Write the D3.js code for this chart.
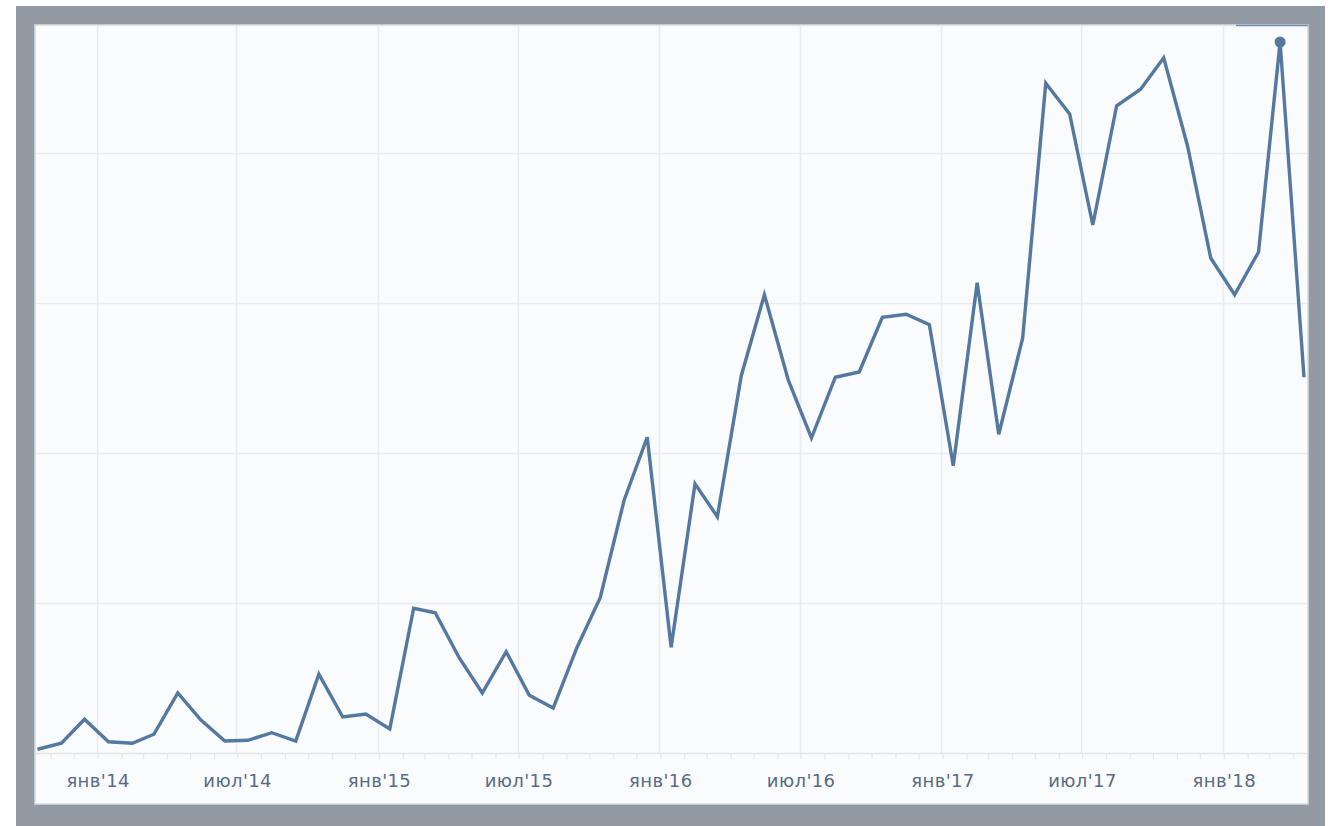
<!DOCTYPE html>
<html>
<head>
<meta charset="utf-8">
<script src="https://cdn.jsdelivr.net/npm/d3@7"></script>
<style>
  html, body { margin: 0; padding: 0; background: #ffffff; }
  svg { display: block; }
  text { font-family: "DejaVu Sans", Verdana, sans-serif; }
</style>
</head>
<body>
<svg id="chart" width="1333" height="826"></svg>
<script>
// ---- data (monthly values, mid-month, Oct 2013 .. Apr 2018) ----
const startYear = 2013, startMonth = 9; // October 2013 (0-based month)
const values = [
  0.5, 1.3, 4.5, 1.5, 1.3, 2.5, 8.0, 4.4, 1.6, 1.7,
  2.7, 1.6, 10.5, 4.8, 5.2, 3.2, 19.3, 18.7, 12.7, 8.0,
  13.5, 7.7, 6.0, 14.1, 20.7, 33.7, 42.1, 14.1, 35.9, 31.5,
  50.3, 61.1, 49.7, 42.0, 50.1, 50.8, 58.1, 58.5, 57.1, 38.3,
  62.7, 42.5, 55.3, 89.3, 85.2, 70.4, 86.3, 88.5, 92.7, 80.9,
  66.0, 61.1, 66.8, 94.8, 50.1
];
const monthNames = ["янв","фев","мар","апр","май","июн","июл","авг","сен","окт","ноя","дек"];
const yGridValues = [0, 20, 40, 60, 80];
const markerIndex = 53; // highlighted point (Mar 2018)

const dates = values.map((v, i) => new Date(startYear, startMonth + i, 15));
const data = values.map((v, i) => ({ date: dates[i], value: v }));

// ---- layout ----
const svg = d3.select("#chart");
const frame = { x: 16, y: 6, w: 1309, h: 820 };
const plot = { x: 35, y: 25, w: 1273, h: 779 };
const axisY = 753;

svg.append("rect").attr("x", frame.x).attr("y", frame.y)
  .attr("width", frame.w).attr("height", frame.h).attr("fill", "#929aa3");
svg.append("rect").attr("x", plot.x).attr("y", plot.y)
  .attr("width", plot.w).attr("height", plot.h)
  .attr("fill", "#fafbfc").attr("stroke", "#d6dadf").attr("stroke-width", 1.5);

svg.append("clipPath").attr("id", "clip").append("rect")
  .attr("x", plot.x + 1).attr("y", plot.y + 1)
  .attr("width", plot.w - 2).attr("height", plot.h - 2);

const x = d3.scaleTime()
  .domain([new Date(2013, 9, 15), new Date(2018, 3, 15)])
  .range([37.5, 1304]);
const y = d3.scaleLinear().domain([0, 80]).range([axisY, 153]);

const g = svg.append("g").attr("clip-path", "url(#clip)");

// horizontal grid
g.selectAll("line.hgrid").data(yGridValues.filter(d => d > 0)).join("line")
  .attr("class", "hgrid")
  .attr("x1", plot.x).attr("x2", plot.x + plot.w)
  .attr("y1", d => Math.round(y(d)) + 0.5).attr("y2", d => Math.round(y(d)) + 0.5)
  .attr("stroke", "#e8ebef").attr("stroke-width", 1.5);

// vertical grid at labelled months
const labelTicks = d3.timeMonth.every(6).range(new Date(2013, 11, 1), new Date(2018, 4, 1))
  .filter(d => d.getMonth() === 0 || d.getMonth() === 6);
g.selectAll("line.vgrid").data(labelTicks).join("line")
  .attr("class", "vgrid")
  .attr("x1", d => Math.round(x(d)) - 0.5).attr("x2", d => Math.round(x(d)) - 0.5)
  .attr("y1", plot.y).attr("y2", axisY)
  .attr("stroke", "#e8ebef").attr("stroke-width", 1.5);

// minor month ticks
const minorAxis = d3.axisBottom(x)
  .ticks(d3.timeMonth.every(1))
  .tickSize(6).tickFormat("");
const minorG = g.append("g").attr("transform", `translate(0,${axisY})`).call(minorAxis);
minorG.select(".domain").remove();
minorG.selectAll(".tick line").attr("stroke", "#e3e6ea").attr("stroke-width", 1.2);

// label axis
const labelAxis = d3.axisBottom(x)
  .tickValues(labelTicks)
  .tickSize(0).tickPadding(21)
  .tickFormat(d => monthNames[d.getMonth()] + "'" + String(d.getFullYear()).slice(2));
const labelG = g.append("g").attr("transform", `translate(0,${axisY})`).call(labelAxis);
labelG.select(".domain").remove();
labelG.selectAll(".tick text")
  .attr("fill", "#566b85").attr("font-size", 18)
  .attr("letter-spacing", "0.4px")
  .attr("font-family", "'DejaVu Sans', Verdana, sans-serif");

// axis line
g.append("line").attr("x1", plot.x).attr("x2", plot.x + plot.w)
  .attr("y1", axisY + 0.5).attr("y2", axisY + 0.5)
  .attr("stroke", "#e2e5e9").attr("stroke-width", 1.5);

// series line
const line = d3.line().x(d => x(d.date)).y(d => y(d.value));
g.append("path").datum(data)
  .attr("d", line)
  .attr("fill", "none")
  .attr("stroke", "#54789f")
  .attr("stroke-width", 3.4)
  .attr("stroke-linejoin", "miter");

// highlighted point
g.append("circle")
  .attr("cx", x(data[markerIndex].date)).attr("cy", y(data[markerIndex].value))
  .attr("r", 5.5).attr("fill", "#54789f");

// small range indicator at top right
svg.append("line")
  .attr("x1", 1236).attr("x2", plot.x + plot.w)
  .attr("y1", plot.y + 0.5).attr("y2", plot.y + 0.5)
  .attr("stroke", "#6d8db0").attr("stroke-width", 1.5);
</script>
</body>
</html>
